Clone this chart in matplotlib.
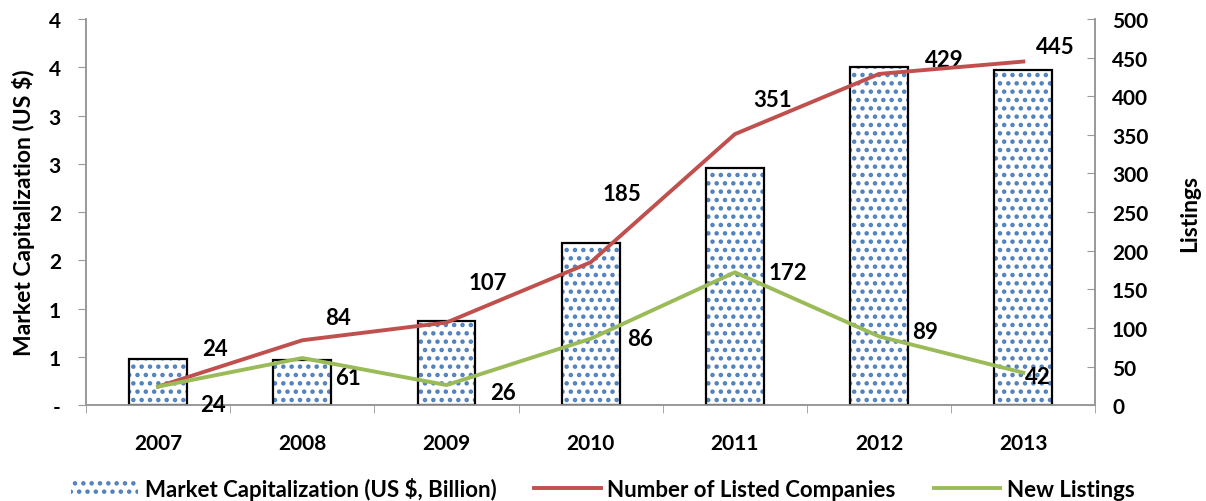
import matplotlib.pyplot as plt
import matplotlib.patches as mpatches
from matplotlib.ticker import FixedLocator, FuncFormatter

plt.rcParams['font.family'] = ['Lato', 'DejaVu Sans']
plt.rcParams['hatch.linewidth'] = 2.0

years = ['2007', '2008', '2009', '2010', '2011', '2012', '2013']
market_cap = [0.48, 0.47, 0.87, 1.68, 2.46, 3.50, 3.47]
listed_companies = [24, 84, 107, 185, 351, 429, 445]
new_listings = [24, 61, 26, 86, 172, 89, 42]

# label offsets in pixels (Excel placed them by hand)
listed_offsets = [(57, 38), (36, 23), (41, 40), (31, 69), (38, 35), (65, 14), (32, 15)]
new_offsets = [(55, -18), (46, -19), (57, -7), (49, 0), (53, 0), (46, 5), (15, -4)]

red = '#c0504d'
green = '#9bbb59'
blue = '#4f81bd'
grey = '#999999'

fig = plt.figure(figsize=(12.06, 5.02), dpi=100)
ax = fig.add_axes([0.0713, 0.191, 0.837, 0.769])
ax2 = ax.twinx()

x = list(range(len(years)))
ax.bar(x, market_cap, width=0.4, color='white', edgecolor=blue, hatch='..', linewidth=0, zorder=2)
ax.bar(x, market_cap, width=0.4, color='none', edgecolor='black', linewidth=1.6, zorder=3)

ax.set_xlim(-0.5, 6.5)
ax.set_ylim(0, 4)
ax.yaxis.set_major_locator(FixedLocator([i * 0.5 for i in range(9)]))
ax.yaxis.set_major_formatter(FuncFormatter(lambda v, p: '-' if v == 0 else str(int(v + 0.5))))
ax.set_xticks(x)
ax.set_xticklabels(years, fontweight='bold', fontsize=15)
ax.xaxis.set_minor_locator(FixedLocator([i - 0.5 for i in range(8)]))
ax.tick_params(axis='x', which='major', length=0, pad=20)
ax.tick_params(axis='x', which='minor', length=6, color=grey, direction='out')
ax.tick_params(axis='y', length=6, color=grey, direction='out', labelsize=15, pad=12)
for lbl in ax.get_yticklabels():
    lbl.set_fontweight('bold')
ax.set_ylabel('Market Capitalization (US $)', fontsize=16.5, fontweight='bold', labelpad=10)

ax2.plot(x, listed_companies, color=red, linewidth=2.8, zorder=4, label='Number of Listed Companies')
ax2.plot(x, new_listings, color=green, linewidth=2.8, zorder=4, label='New Listings')
ax2.set_ylim(0, 500)
ax2.set_yticks(range(0, 501, 50))
ax2.tick_params(axis='y', length=6, color=grey, direction='in', labelsize=15, pad=12)
for lbl in ax2.get_yticklabels():
    lbl.set_fontweight('bold')
ax2.set_ylabel('Listings', fontsize=16.5, fontweight='bold', labelpad=22)

for xi, v, off in zip(x, listed_companies, listed_offsets):
    ax2.annotate(str(v), (xi, v), xytext=off, textcoords='offset pixels',
                 ha='center', va='center', fontsize=16, fontweight='bold')
for xi, v, off in zip(x, new_listings, new_offsets):
    ax2.annotate(str(v), (xi, v), xytext=off, textcoords='offset pixels',
                 ha='center', va='center', fontsize=16, fontweight='bold')

for a in (ax, ax2):
    a.spines['top'].set_visible(False)
    for s in ('left', 'right', 'bottom'):
        a.spines[s].set_color(grey)
        a.spines[s].set_linewidth(1.2)

h2, l2 = ax2.get_legend_handles_labels()
cap_patch = mpatches.Patch(facecolor='white', edgecolor=blue, hatch='..', linewidth=0)
fig.legend([cap_patch] + h2, ['Market Capitalization (US $, Billion)'] + l2,
           loc='center', bbox_to_anchor=(0.5, 0.025), ncol=3, frameon=False,
           prop={'weight': 'bold', 'size': 16}, handlelength=3.0, columnspacing=1.7, handletextpad=0.3)

fig.savefig('out.png', dpi=100)
